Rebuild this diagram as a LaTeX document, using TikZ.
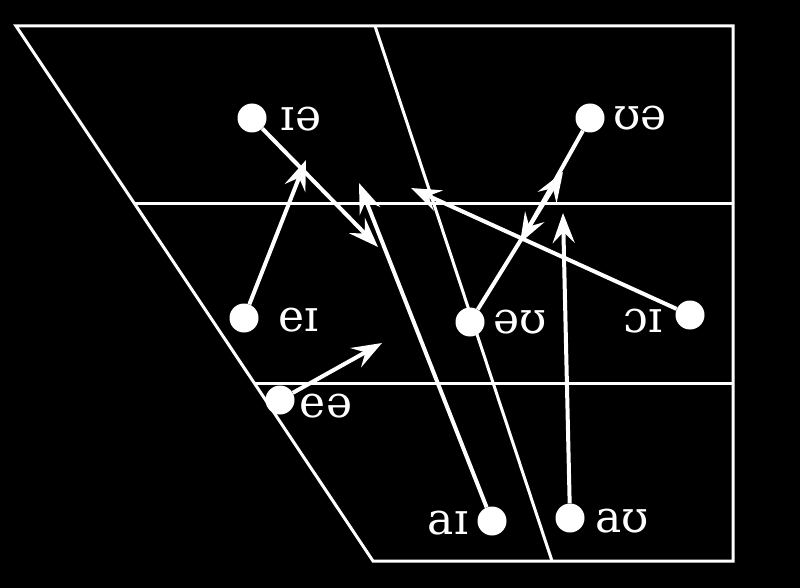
\documentclass[tikz,border=0pt]{standalone}
\usepackage{fontspec}
\setmainfont{DejaVu Serif}
\usetikzlibrary{arrows.meta}
\begin{document}
\begin{tikzpicture}[x=1pt,y=-1pt,
  frame/.style={draw=white,line width=3pt,line join=miter},
  dot/.style={circle,fill=white,minimum size=29pt,inner sep=0pt},
  lab/.style={text=white,font=\fontsize{44}{48}\selectfont,inner sep=0pt,anchor=center},
  glide/.style={draw=white,line width=4pt,-{Stealth[length=30pt,width=22pt,inset=11pt]}}]
\fill[black] (0,0) rectangle (800,588);
\useasboundingbox (0,0) rectangle (800,588);
% chart
\draw[frame] (16,26) -- (733,26) -- (733,561) -- (373,561) -- cycle;
\draw[frame] (135,204) -- (733,204);
\draw[frame] (254,383) -- (733,383);
\draw[frame] (375,26) -- (552,561);
% dots
\node[dot] (ie) at (252,118) {};
\node[dot] (ue) at (590,118) {};
\node[dot] (ei) at (244,318) {};
\node[dot] (ou) at (470,322) {};
\node[dot] (oi) at (690,315) {};
\node[dot] (ea) at (280,400) {};
\node[dot] (ai) at (492,521) {};
\node[dot] (au) at (570,518) {};
% labels
\node[lab] (lie) at (301,119) {ɪə};
\node[lab] (lue) at (640,118) {ʊə};
\node[lab] (lei) at (299,320) {eɪ};
\node[lab] (lou) at (520,322) {əʊ};
\node[lab] (loi) at (643,321) {ɔɪ};
\node[lab] (lea) at (326,406) {eə};
\node[lab] (lai) at (448,523) {aɪ};
\node[lab] (lau) at (622,521) {aʊ};
% arrow tips
\coordinate (tie) at (378,247);
\coordinate (tei) at (306,160);
\coordinate (tai) at (359,183);
\coordinate (toi) at (411,188);
\coordinate (tou) at (563,172);
\coordinate (tue) at (520,243);
\coordinate (tau) at (563,213);
\coordinate (tea) at (382,343);
% glides
\draw[glide] (ie) -- (tie);
\draw[glide] (ei) -- (tei);
\draw[glide] (ai) -- (tai);
\draw[glide] (oi) -- (toi);
\draw[glide] (ou) -- (tou);
\draw[glide] (ue) -- (tue);
\draw[glide] (au) -- (tau);
\draw[glide] (ea) -- (tea);
\end{tikzpicture}
\end{document}
